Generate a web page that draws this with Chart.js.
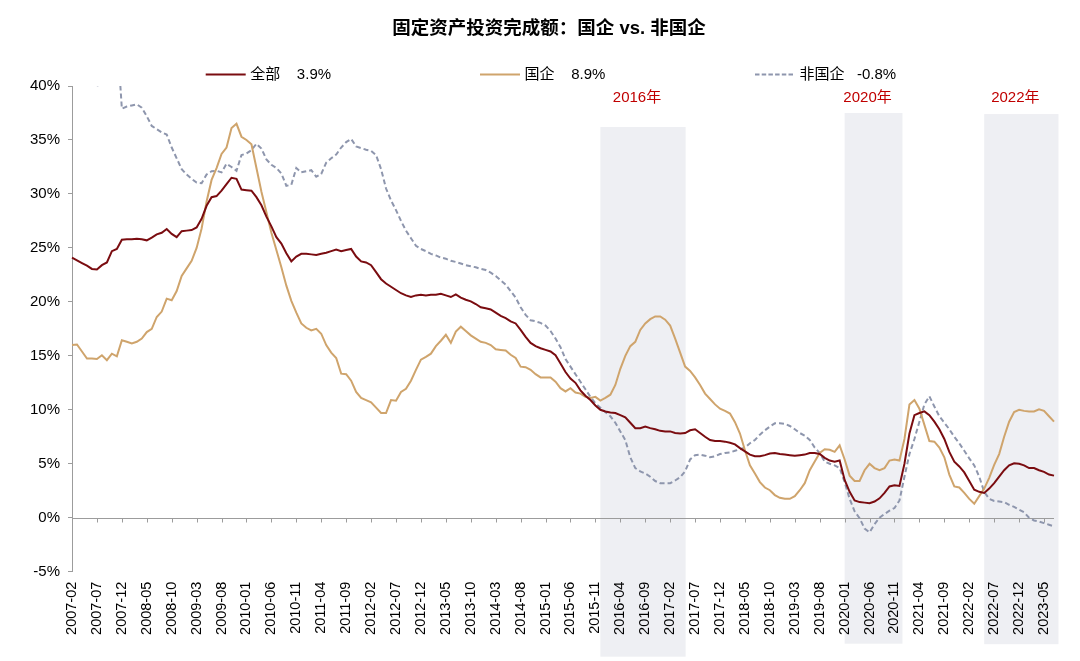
<!DOCTYPE html>
<html>
<head>
<meta charset="utf-8">
<script src="https://cdn.jsdelivr.net/npm/chart.js@4.4.1/dist/chart.umd.min.js"></script>
<style>
  html, body { margin: 0; padding: 0; background: #ffffff; }
  #wrap { width: 1080px; height: 661px; position: relative; }
</style>
</head>
<body>
<div id="wrap"><canvas id="c" width="1080" height="661"></canvas></div>
<script>
// ---------- DATA ----------
const TITLE = '固定资产投资完成额：国企 vs. 非国企';
const START_YEAR = 2007;
const START_MONTH = 2;
const N_MONTHS = 198;
const months = Array.from({ length: N_MONTHS }, (_, i) => {
  const m = START_MONTH - 1 + i;
  return (START_YEAR + Math.floor(m / 12)) + '-' + String(m % 12 + 1).padStart(2, '0');
});

const seriesNames = ['全部', '国企', '非国企'];
const latestValues = ['3.9%', '8.9%', '-0.8%'];

const totalFAI = [
  24.1, 23.85, 23.6, 23.35, 23.05, 23.0, 23.4, 23.65, 24.7, 24.9,
  25.75, 25.8, 25.8, 25.85, 25.8, 25.7, 25.95, 26.25, 26.4, 26.75,
  26.3, 26.0, 26.55, 26.6, 26.65, 26.9, 27.7, 28.9, 29.7, 29.8,
  30.3, 30.9, 31.5, 31.4, 30.4, 30.35, 30.3, 29.7, 28.95, 27.9,
  27.0, 26.0, 25.4, 24.5, 23.75, 24.2, 24.45, 24.45, 24.4, 24.35,
  24.45, 24.55, 24.7, 24.85, 24.7, 24.8, 24.9, 24.2, 23.75, 23.65,
  23.4, 22.75, 22.1, 21.7, 21.4, 21.1, 20.8, 20.6, 20.45, 20.6,
  20.65, 20.6, 20.65, 20.65, 20.75, 20.6, 20.45, 20.7, 20.4, 20.2,
  20.05, 19.8, 19.5, 19.4, 19.3, 19.0, 18.7, 18.5, 18.2, 18.0,
  17.4, 16.75, 16.2, 15.9, 15.7, 15.55, 15.4, 15.05, 14.3, 13.5,
  12.9, 12.5, 11.8, 11.3, 10.9, 10.4, 10.0, 9.85, 9.75, 9.7,
  9.5, 9.3, 8.8, 8.3, 8.3, 8.45, 8.3, 8.2, 8.05, 8.0,
  8.0, 7.85, 7.8, 7.85, 8.1, 8.2, 7.85, 7.5, 7.2, 7.1,
  7.1, 7.05, 6.95, 6.8, 6.45, 6.15, 5.85, 5.7, 5.7, 5.8,
  5.95, 6.0, 5.9, 5.85, 5.8, 5.75, 5.8, 5.85, 6.0, 6.0,
  5.9, 5.55, 5.3, 5.2, 5.3, 3.5, 2.4, 1.6, 1.45, 1.4,
  1.35, 1.5, 1.8, 2.3, 2.9, 3.0, 2.95, 5.0, 7.8, 9.5,
  9.7, 9.85, 9.5, 8.9, 8.2, 7.3, 6.1, 5.2, 4.75, 4.2,
  3.4, 2.6, 2.4, 2.3, 2.7, 3.2, 3.8, 4.4, 4.85, 5.05,
  5.0, 4.85, 4.6, 4.6, 4.4, 4.25, 4.0, 3.9
];

const stateFAI = [
  16.0, 16.05, 15.4, 14.75, 14.75, 14.7, 15.05, 14.6, 15.2, 14.95,
  16.45, 16.3, 16.15, 16.3, 16.6, 17.2, 17.5, 18.6, 19.1, 20.3,
  20.15, 21.0, 22.4, 23.1, 23.8, 25.0, 26.8, 29.3, 31.3, 32.4,
  33.7, 34.3, 36.1, 36.5, 35.3, 35.0, 34.6, 32.4, 30.2, 28.3,
  26.4, 24.8, 23.2, 21.5, 20.1, 19.0, 18.0, 17.6, 17.35, 17.5,
  17.05, 16.0, 15.3, 14.8, 13.35, 13.3, 12.7, 11.65, 11.1, 10.9,
  10.7, 10.2, 9.7, 9.7, 10.9, 10.85, 11.65, 11.95, 12.7, 13.7,
  14.65, 14.9, 15.2, 15.9, 16.4, 16.95, 16.2, 17.25, 17.7, 17.3,
  16.9, 16.6, 16.3, 16.2, 16.0, 15.6, 15.55, 15.5, 15.1, 14.8,
  14.0, 13.95, 13.7, 13.3, 13.0, 13.0, 13.0, 12.6, 12.0, 11.7,
  12.0, 11.6, 11.5, 11.2, 11.1, 11.2, 10.85, 11.1, 11.4, 12.3,
  13.8, 15.0, 15.9, 16.3, 17.4, 18.0, 18.4, 18.65, 18.65, 18.35,
  17.8, 16.6, 15.3, 14.0, 13.6, 13.0, 12.3, 11.5, 11.0, 10.5,
  10.1, 9.9, 9.65, 8.85, 7.8, 6.25, 4.85, 4.1, 3.3, 2.8,
  2.55, 2.1, 1.85, 1.75, 1.75, 2.0, 2.55, 3.2, 4.4, 5.2,
  6.0, 6.35, 6.3, 6.1, 6.7, 5.4, 3.9, 3.4, 3.4, 4.4,
  5.0, 4.6, 4.4, 4.6, 5.3, 5.4, 5.3, 7.3, 10.5, 10.9,
  10.1, 8.6, 7.1, 7.05, 6.5, 5.6, 4.0, 2.9, 2.8, 2.3,
  1.75, 1.3, 2.0, 2.7, 3.7, 4.9, 5.9, 7.5, 8.9, 9.8,
  10.0, 9.9, 9.85, 9.85, 10.05, 9.9, 9.4, 8.9
];

const nonStateFAI = [
  46.0, 45.5, 44.0, 42.5, 40.8, 39.9, 41.2, 43.0, 44.5, 45.0,
  37.9, 38.1, 38.2, 38.3, 38.0, 37.2, 36.3, 36.0, 35.7, 35.5,
  34.3, 33.3, 32.3, 31.8, 31.4, 31.05, 31.0, 31.8, 32.1, 32.15,
  32.0, 32.8, 32.5, 32.15, 33.6, 33.75, 34.05, 34.65, 34.2, 33.2,
  32.7, 32.4, 31.9, 30.75, 30.85, 32.4, 32.0, 32.1, 32.2, 31.6,
  31.85, 32.9, 33.3, 33.65, 34.3, 34.8, 35.1, 34.4, 34.25, 34.1,
  34.0, 33.6, 32.3, 30.5, 29.4, 28.5, 27.5, 26.6, 25.9, 25.2,
  24.9, 24.7, 24.45, 24.3, 24.1, 24.0, 23.8, 23.7, 23.55, 23.4,
  23.3, 23.2, 23.05, 22.95, 22.7, 22.4, 22.0, 21.6, 21.0, 20.4,
  19.5, 18.8, 18.3, 18.2, 18.05, 17.8, 17.3, 16.6, 15.8, 14.7,
  14.0, 13.3, 12.6, 11.9, 11.2, 10.6, 10.2, 9.8, 9.4, 8.8,
  8.0, 7.2, 5.6, 4.6, 4.3, 4.1, 3.8, 3.4, 3.2, 3.2,
  3.2, 3.45, 3.75, 4.3, 5.4, 5.8, 5.85, 5.75, 5.6, 5.7,
  5.9, 6.0, 6.05, 6.2, 6.35, 6.5, 6.9, 7.2, 7.7, 8.1,
  8.45, 8.75, 8.75, 8.7, 8.5, 8.2, 7.85, 7.6, 7.2, 6.5,
  6.0, 5.2, 5.0, 4.85, 4.6, 3.3, 1.75, 0.6, -0.05, -1.0,
  -1.35, -0.6, 0.0, 0.35, 0.65, 0.9, 1.6, 3.8, 5.9, 7.3,
  8.9, 10.5, 11.25, 10.3, 9.4, 8.8, 8.2, 7.5, 6.9, 6.2,
  5.5, 4.85, 3.8, 2.4, 1.75, 1.55, 1.5, 1.45, 1.2, 1.0,
  0.75, 0.5, 0.0, -0.25, -0.35, -0.5, -0.65, -0.8
];

const yTickValues = [-5, 0, 5, 10, 15, 20, 25, 30, 35, 40];
const TICK_EVERY = 5;

// highlighted periods: label, first month, length in months
const periodLabels = ['2016年', '2020年', '2022年'];
const periodStarts = ['2015-12', '2020-01', '2022-05'];
const periodLengths = [17.1, 11.6, 14.9];

// ---------- STYLE / LAYOUT ----------
const periodTops = [36.2, 37.5, 37.4];        // top edge, in axis units
const periodBottomOffsets = [85, 72, 72.5];     // px below the plot area
const FONT = '"Liberation Sans", Arial, "Noto Sans CJK SC", sans-serif';
const COLORS = ['#7A0C10', '#CFA46C', '#8E96AD'];
const AXIS_COLOR = '#9C9C9C';
const SHADE = '#EEEFF3';
const RED = '#C00000';

function monthIndex(label) {
  const [y, m] = label.split('-').map(Number);
  return (y - START_YEAR) * 12 + (m - START_MONTH);
}

const decor = {
  id: 'decor',
  beforeDraw(chart) {
    const { ctx, chartArea, scales } = chart;
    const x = scales.x, y = scales.y;
    const x0 = x.getPixelForValue(0);
    const step = x.getPixelForValue(1) - x0;
    ctx.save();
    ctx.fillStyle = SHADE;
    periodStarts.forEach((s, k) => {
      const i0 = monthIndex(s);
      const left = x0 + i0 * step;
      const right = x0 + (i0 + periodLengths[k]) * step;
      const top = y.getPixelForValue(periodTops[k]);
      const bottom = chartArea.bottom + periodBottomOffsets[k];
      ctx.fillRect(left, top, right - left, bottom - top);
    });
    ctx.restore();
  },
  beforeDatasetsDraw(chart) {
    const { ctx, chartArea, scales } = chart;
    const x = scales.x, y = scales.y;
    const y0 = Math.round(y.getPixelForValue(0)) + 0.5;
    ctx.save();
    ctx.strokeStyle = AXIS_COLOR;
    ctx.lineWidth = 1;
    ctx.beginPath();
    ctx.moveTo(chartArea.left, y0);
    ctx.lineTo(chartArea.right, y0);
    for (let i = 0; i < months.length; i += TICK_EVERY) {
      const px = Math.round(x.getPixelForValue(i)) + 0.5;
      ctx.moveTo(px, y0);
      ctx.lineTo(px, y0 + 4);
    }
    ctx.stroke();
    ctx.restore();
  },
  afterDraw(chart) {
    const { ctx, scales } = chart;
    const x = scales.x;
    const x0 = x.getPixelForValue(0);
    const step = x.getPixelForValue(1) - x0;
    ctx.save();
    // title
    ctx.fillStyle = '#000';
    ctx.font = 'bold 18.5px ' + FONT;
    ctx.textAlign = 'center';
    ctx.textBaseline = 'middle';
    ctx.fillText(TITLE, 549, 29);
    // legend
    const legendX = [205.7, 480, 755];
    const gaps = ['    ', '    ', '   '];
    const legendY = 74.5;
    ctx.font = '15px ' + FONT;
    ctx.textAlign = 'left';
    seriesNames.forEach((name, k) => {
      ctx.strokeStyle = COLORS[k];
      ctx.lineWidth = 2;
      ctx.setLineDash(k === 2 ? [4.5, 2.2] : []);
      ctx.beginPath();
      ctx.moveTo(legendX[k], legendY);
      ctx.lineTo(legendX[k] + 40, legendY);
      ctx.stroke();
      ctx.setLineDash([]);
      ctx.fillStyle = '#000';
      ctx.fillText(name + gaps[k] + latestValues[k], legendX[k] + 44.5, legendY);
    });
    // period labels
    ctx.fillStyle = RED;
    ctx.textAlign = 'center';
    ctx.font = '15px ' + FONT;
    periodStarts.forEach((s, k) => {
      const i0 = monthIndex(s);
      const cx = x0 + (i0 + periodLengths[k] / 2) * step - 6;
      ctx.fillText(periodLabels[k], cx, 98);
    });
    ctx.restore();
  }
};

const datasets = [totalFAI, stateFAI, nonStateFAI].map((arr, k) => ({
  label: seriesNames[k],
  data: arr,
  borderColor: COLORS[k],
  backgroundColor: COLORS[k],
  borderWidth: 2,
  borderDash: k === 2 ? [5, 3] : [],
  pointRadius: 0,
  pointHoverRadius: 0,
  tension: 0,
  fill: false
}));

new Chart(document.getElementById('c'), {
  type: 'line',
  data: { labels: months, datasets },
  options: {
    responsive: false,
    animation: false,
    events: [],
    layout: { padding: { top: 86, right: 26, left: 0, bottom: 0 } },
    plugins: {
      legend: { display: false },
      title: { display: false },
      tooltip: { enabled: false }
    },
    scales: {
      x: {
        type: 'category',
        offset: false,
        grid: { display: false, drawTicks: false },
        border: { display: false },
        ticks: {
          autoSkip: false,
          minRotation: 90,
          maxRotation: 90,
          padding: 10,
          color: '#000',
          font: { family: FONT, size: 14.5 },
          callback: function (v, i) { return i % TICK_EVERY === 0 ? this.getLabelForValue(v) : null; }
        },
        afterFit(s) { s.height = 89.3; }
      },
      y: {
        min: yTickValues[0],
        max: yTickValues[yTickValues.length - 1],
        afterBuildTicks(s) { s.ticks = yTickValues.map(v => ({ value: v })); },
        grid: { display: true, drawOnChartArea: false, drawTicks: true, tickLength: 4, color: AXIS_COLOR },
        border: { display: true, color: AXIS_COLOR, width: 1 },
        ticks: {
          padding: 8,
          color: '#000',
          font: { family: FONT, size: 15 },
          callback: v => v + '%'
        },
        afterFit(s) { s.width = 72; }
      }
    }
  },
  plugins: [decor]
});
</script>
</body>
</html>
